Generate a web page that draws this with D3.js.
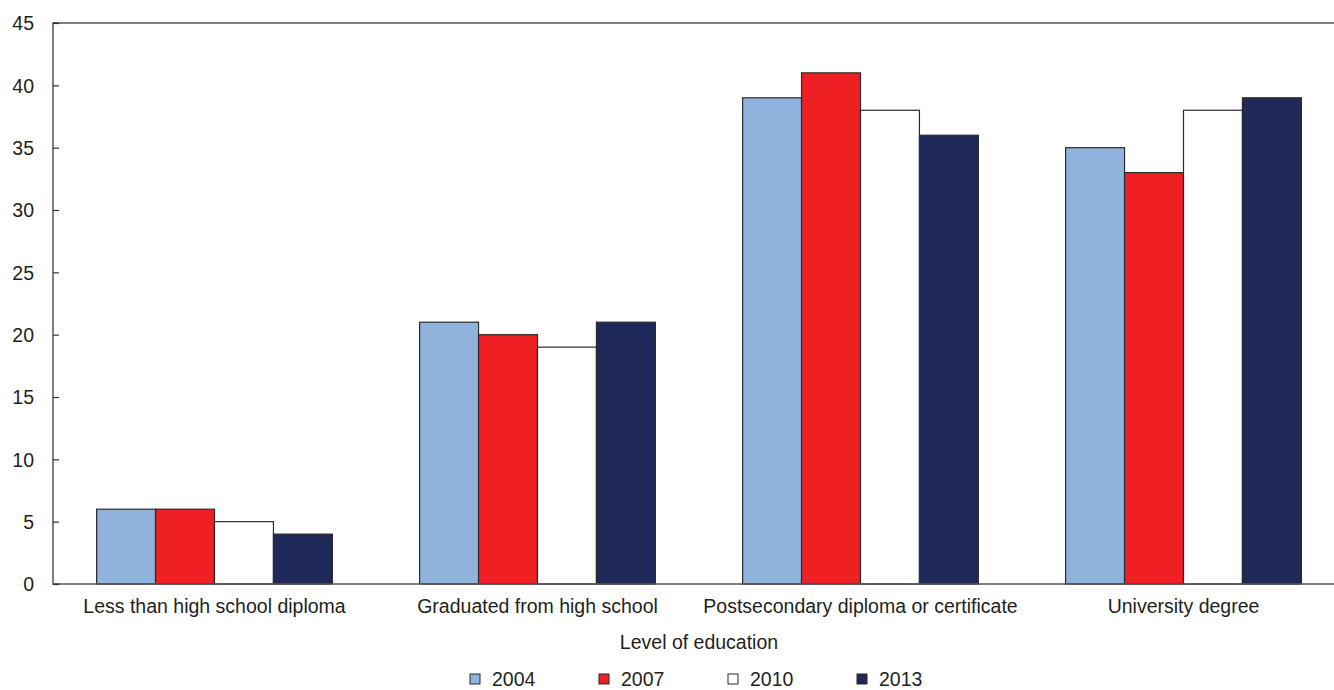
<!DOCTYPE html>
<html><head><meta charset="utf-8">
<script src="https://cdn.jsdelivr.net/npm/d3@7"></script>
<style>
body{margin:0;background:#fff;}
text{font-family:"Liberation Sans Narrow","Arial Narrow","Liberation Sans",sans-serif;fill:#231f20;}
</style></head>
<body>
<svg id="chart" width="1334" height="690"></svg>
<script>
const categories = ["Less than high school diploma","Graduated from high school","Postsecondary diploma or certificate","University degree"];
const seriesNames = ["2004","2007","2010","2013"];
const v2004 = [6, 21, 39, 35];
const v2007 = [6, 20, 41, 33];
const v2010 = [5, 19, 38, 38];
const v2013 = [4, 21, 36, 39];
const yTicks = [0,5,10,15,20,25,30,35,40,45];
const colors = ["#8fb3dd","#ee2024","#ffffff","#1e2859"];

const seriesVals = [v2004, v2007, v2010, v2013];
const data = categories.map((c,i)=>({cat:c, vals:seriesNames.map((s,j)=>({key:s, value:seriesVals[j][i], color:colors[j]}))}));

const svg = d3.select("#chart");
const mLeft = 53, mRight = 1345, mTop = 23, mBottom = 584;
const x0 = d3.scaleBand().domain(categories).range([mLeft,mRight]).paddingInner(0.27).paddingOuter(0.135);
const x1 = d3.scaleBand().domain(seriesNames).range([0,x0.bandwidth()]);
const y = d3.scaleLinear().domain([0,45]).range([mBottom,mTop]);
const fs = "19.5px";

// bars
const g = svg.append("g");
g.selectAll("g.grp").data(data).join("g").attr("class","grp")
 .attr("transform",d=>`translate(${x0(d.cat)},0)`)
 .selectAll("rect").data(d=>d.vals).join("rect")
 .attr("x",d=>x1(d.key)).attr("width",x1.bandwidth())
 .attr("y",d=>y(d.value)).attr("height",d=>y(0)-y(d.value))
 .attr("fill",d=>d.color).attr("stroke","#2b2b2b").attr("stroke-width",1.2);

// top border and baseline
svg.append("line").attr("x1",mLeft).attr("x2",1334).attr("y1",y(45)).attr("y2",y(45)).attr("stroke","#555").attr("stroke-width",1.5);
svg.append("line").attr("x1",mLeft).attr("x2",1334).attr("y1",y(0)).attr("y2",y(0)).attr("stroke","#555").attr("stroke-width",1.5);

// y axis
const yAxis = d3.axisRight(y).tickValues(yTicks).tickSize(6).tickFormat(d3.format("d"));
const ya = svg.append("g").attr("transform",`translate(${mLeft},0)`).call(yAxis);
ya.select(".domain").attr("stroke","#555").attr("stroke-width",1.5).attr("d",`M6,${mTop}H0V${mBottom}H6`);
ya.selectAll(".tick line").attr("stroke","#333").attr("stroke-width",1.2);
ya.selectAll(".tick text").attr("x",-19).attr("text-anchor","end").attr("dy","0.35em").style("font-size",fs).style("font-family","'Liberation Sans Narrow','Liberation Sans',sans-serif").attr("fill","#231f20");

// x labels
const xa = svg.append("g").attr("transform",`translate(0,${mBottom})`).call(d3.axisBottom(x0).tickSize(0));
xa.select(".domain").remove();
xa.selectAll(".tick text").attr("dy",0).attr("y",29).style("font-size",fs).style("font-family","'Liberation Sans Narrow','Liberation Sans',sans-serif").attr("fill","#231f20");

// axis title
svg.append("text").attr("x",(mLeft+mRight)/2).attr("y",649).attr("text-anchor","middle").style("font-size",fs).text("Level of education");

// legend
const lx = [470, 599, 728, 857];
const lg = svg.append("g").selectAll("g").data(seriesNames).join("g")
  .attr("transform",(d,i)=>`translate(${lx[i]},674)`);
lg.append("rect").attr("width",10).attr("height",10).attr("fill",(d,i)=>colors[i]).attr("stroke","#2b2b2b").attr("stroke-width",1);
lg.append("text").attr("x",22).attr("y",11.5).style("font-size",fs).text(d=>d);
</script>
</body></html>
